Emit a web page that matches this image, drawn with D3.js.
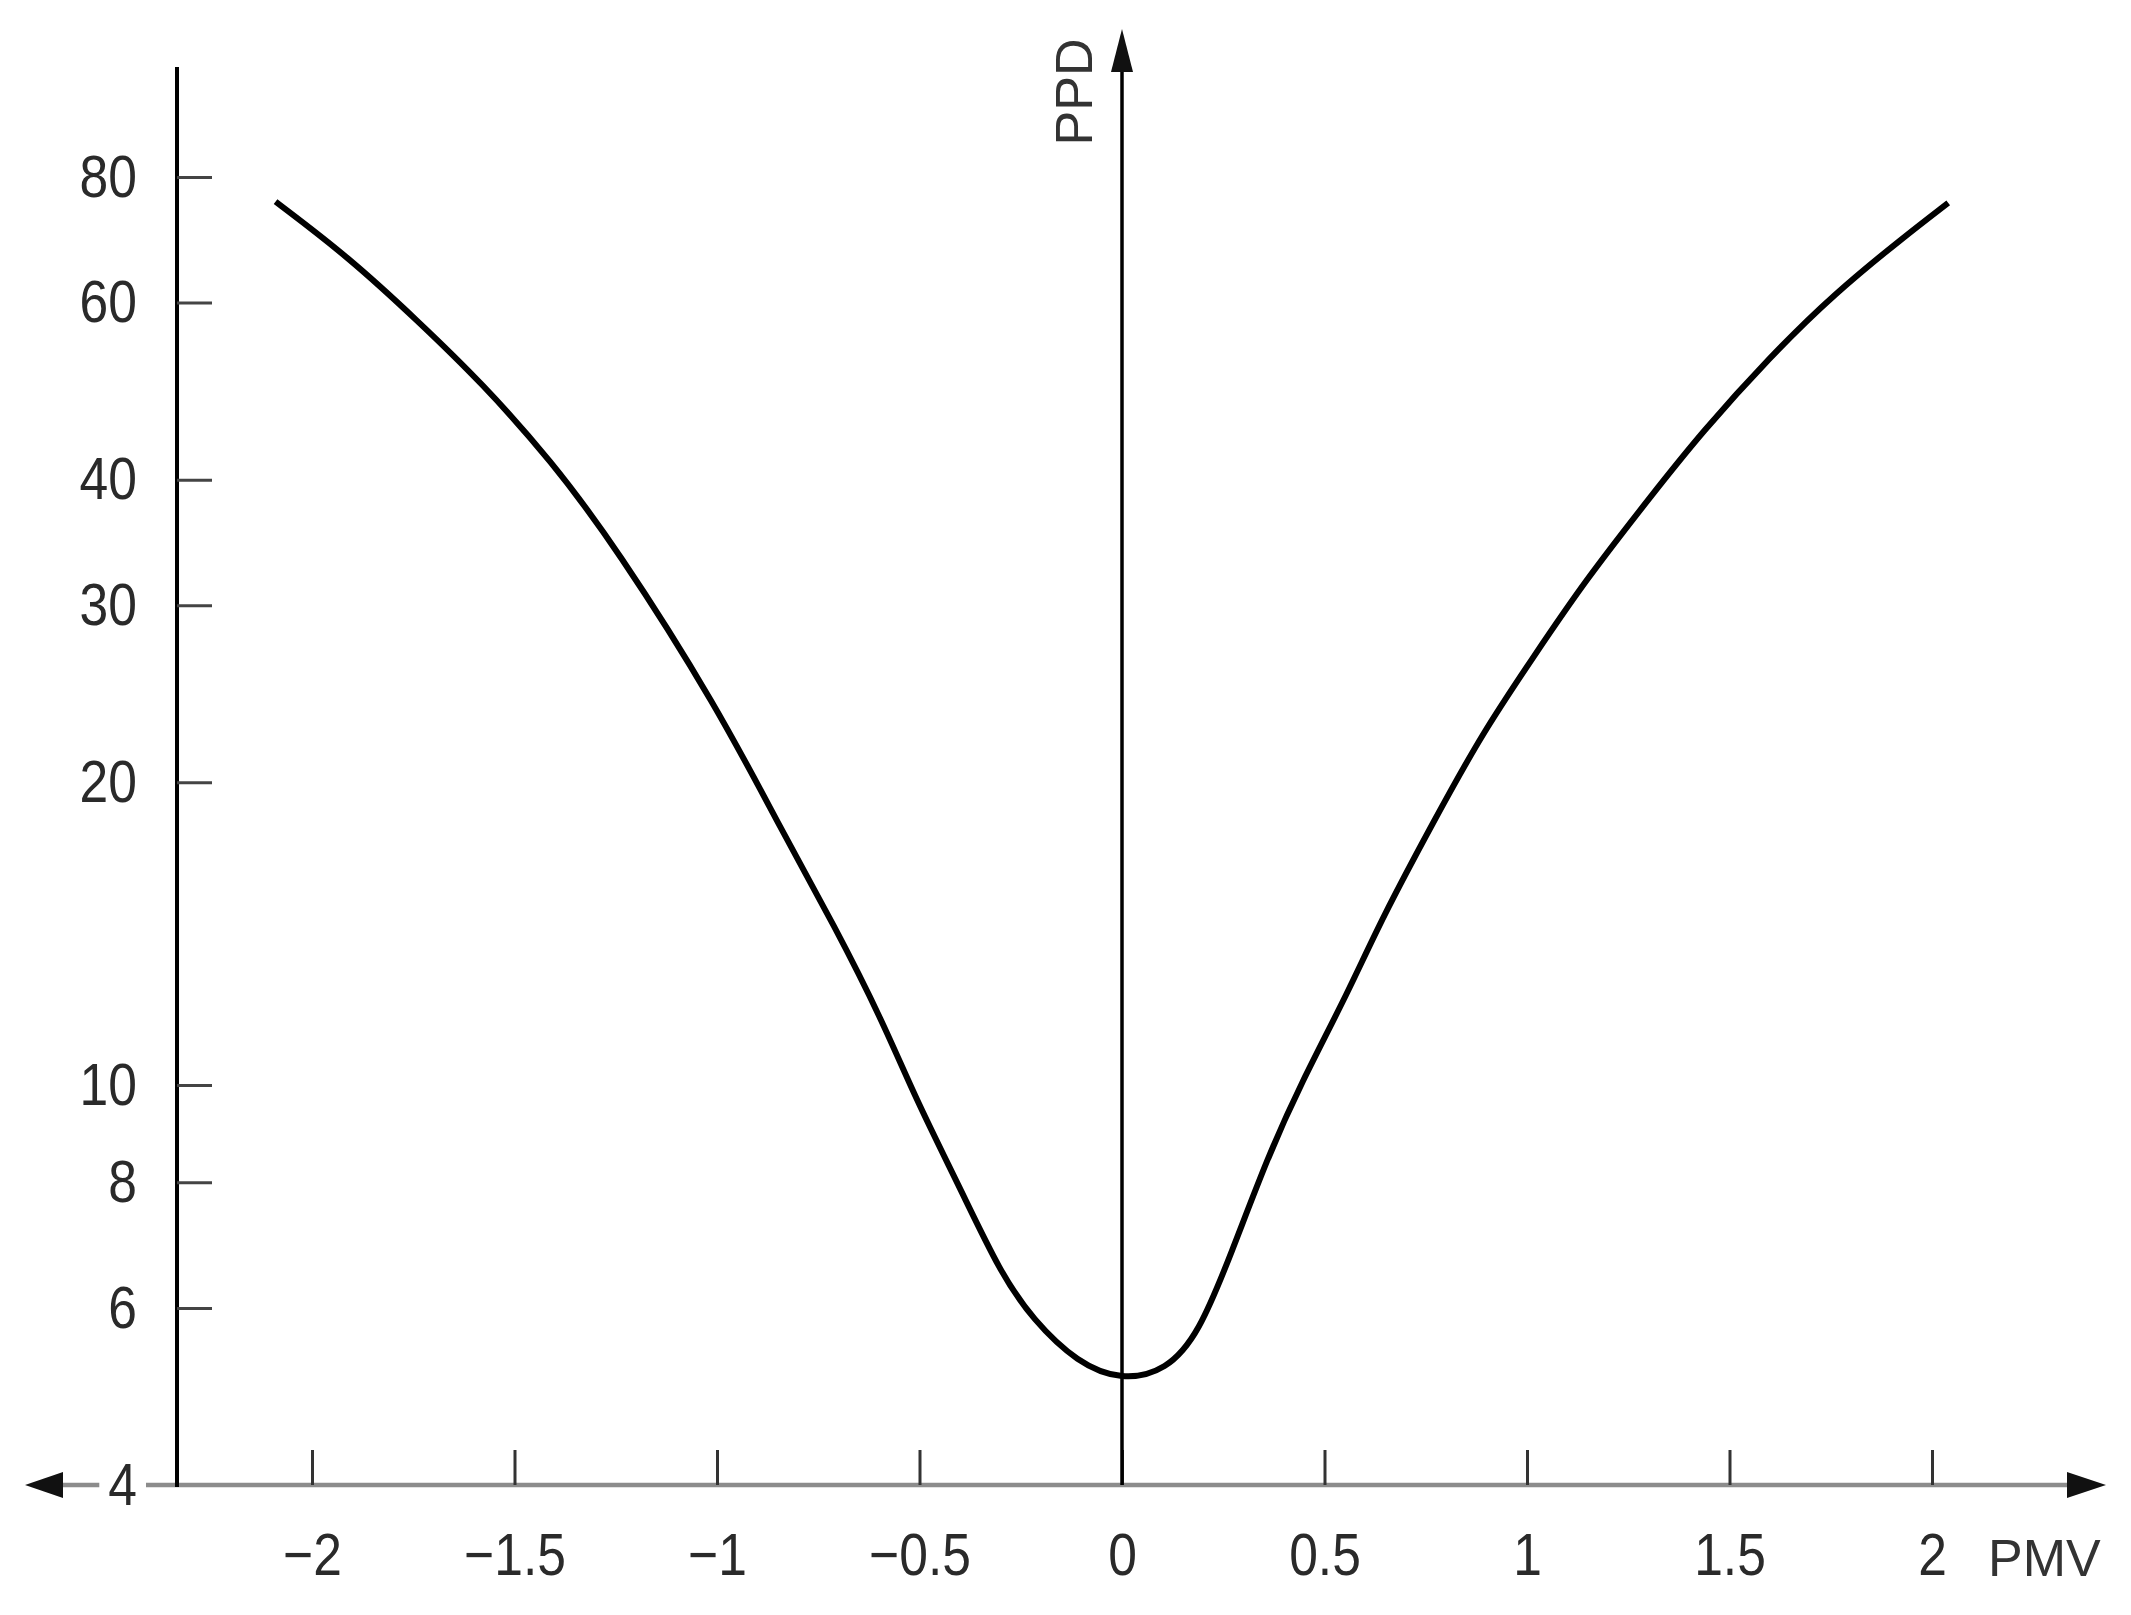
<!DOCTYPE html>
<html>
<head>
<meta charset="utf-8">
<script src="https://cdnjs.cloudflare.com/ajax/libs/d3/7.8.5/d3.min.js"></script>
<style>
body { margin: 0; background: #fff; }
svg { display: block; }
.num { font-family: 'Liberation Sans', Arial, sans-serif; font-size: 60px; fill: #2a2a2a; }
.name { font-family: 'Liberation Sans', Arial, sans-serif; font-size: 52px; fill: #333; }
</style>
</head>
<body>
<div id="chart"></div>
<script>
// PMV / PPD readings
const pmv = [-2.09, -1.91, -1.74, -1.58, -1.41, -1.25, -1.00, -0.84, -0.71, -0.59, -0.51,
    -0.40, -0.30, -0.22, -0.11, 0, 0.11, 0.19, 0.27, 0.36, 0.44, 0.56, 0.64, 0.77, 0.89,
    1.02, 1.14, 1.31, 1.43, 1.60, 1.76, 1.93, 2.04]
const ppd = [75.6, 66.6, 57.6, 49.9, 41.8, 34.3, 23.8, 17.9, 14.4, 11.55, 9.7,
    7.9, 6.5, 5.84, 5.29, 5.08, 5.2, 5.66, 6.8, 8.48, 10.0, 12.4, 14.6, 18.3, 22.4,
    26.8, 31.6, 38.7, 44.5, 53.0, 61.3, 69.7, 75.4]
const xTicks = [-2, -1.5, -1, -0.5, 0, 0.5, 1, 1.5, 2]
const yTicks = [4, 6, 8, 10, 20, 30, 40, 60, 80]
const xName = 'PMV'
const yName = 'PPD'

const width = 2131
const height = 1615
const squeeze = 0.86

//scales
const x = d3.scaleLinear().domain([-2, 2]).range([312, 1932])
const y = d3.scaleLog().domain([4, 80]).range([1485, 177])
const leftX = 177
const base = y(4)

const svg = d3.select('#chart')
    .append('svg')
    .attr('width', width)
    .attr('height', height)
    .style('background', '#fff')

//x axis line with arrows
svg.append('line')
    .attr('x1', 60).attr('x2', 2070)
    .attr('y1', base).attr('y2', base)
    .attr('stroke', '#8c8c8c')
    .attr('stroke-width', 4.5)
svg.append('path')
    .attr('d', `M25,${base}L63,${base - 13}L63,${base + 13}Z`)
    .attr('fill', '#111')
svg.append('path')
    .attr('d', `M2106,${base}L2067,${base - 13}L2067,${base + 13}Z`)
    .attr('fill', '#111')

//x ticks
const xAxis = d3.axisBottom(x)
    .tickValues(xTicks)
    .tickSizeInner(-35)
    .tickSizeOuter(0)
    .tickPadding(47)
    .tickFormat((d) => d < 0 ? '\u2212' + Math.abs(d) : String(d))
const gx = svg.append('g')
    .attr('transform', `translate(0,${base})`)
    .call(xAxis)
gx.select('.domain').remove()
gx.selectAll('.tick line').attr('stroke', '#333').attr('stroke-width', 3)
gx.selectAll('.tick text')
    .attr('class', 'num')
    .attr('transform', `scale(${squeeze},1)`)

//y axis
svg.append('line')
    .attr('x1', leftX).attr('x2', leftX)
    .attr('y1', 67).attr('y2', base + 2)
    .attr('stroke', '#000')
    .attr('stroke-width', 4)

const yAxis = d3.axisLeft(y)
    .tickValues(yTicks)
    .tickSizeInner(-35)
    .tickSizeOuter(0)
    .tickPadding(40 / squeeze)
    .tickFormat(d3.format('d'))
const gy = svg.append('g')
    .attr('transform', `translate(${leftX},0)`)
    .call(yAxis)
gy.select('.domain').remove()
gy.selectAll('.tick line').attr('stroke', '#444').attr('stroke-width', 3)
gy.selectAll('.tick text')
    .attr('class', 'num')
    .attr('transform', `scale(${squeeze},1)`)
gy.selectAll('.tick').filter((d) => d === 4).each(function () {
    const t = d3.select(this)
    t.select('line').remove()
    const bb = t.select('text').node().getBBox()
    t.insert('rect', 'text')
        .attr('x', bb.x * squeeze - 9).attr('y', -8)
        .attr('width', bb.width * squeeze + 18).attr('height', 16)
        .attr('fill', '#fff')
})

//center axis
svg.append('line')
    .attr('x1', x(0)).attr('x2', x(0))
    .attr('y1', 70).attr('y2', base)
    .attr('stroke', '#000')
    .attr('stroke-width', 3.5)
svg.append('path')
    .attr('d', `M${x(0)},29L${x(0) - 11},72L${x(0) + 11},72Z`)
    .attr('fill', '#111')

//labels
svg.append('text')
    .attr('class', 'name')
    .attr('x', 1988)
    .attr('y', 1576)
    .text(xName)
svg.append('text')
    .attr('class', 'name')
    .attr('text-anchor', 'middle')
    .attr('transform', 'translate(1092,92) rotate(-90)')
    .text(yName)

//curve
const line = d3.line()
    .x((d) => x(d[0]))
    .y((d) => y(d[1]))
    .curve(d3.curveBasis)
svg.append('path')
    .datum(pmv.map((v, i) => [v, ppd[i]]))
    .attr('fill', 'none')
    .attr('stroke', '#000')
    .attr('stroke-width', 6)
    .attr('stroke-linejoin', 'round')
    .attr('d', line)
</script>
</body>
</html>
